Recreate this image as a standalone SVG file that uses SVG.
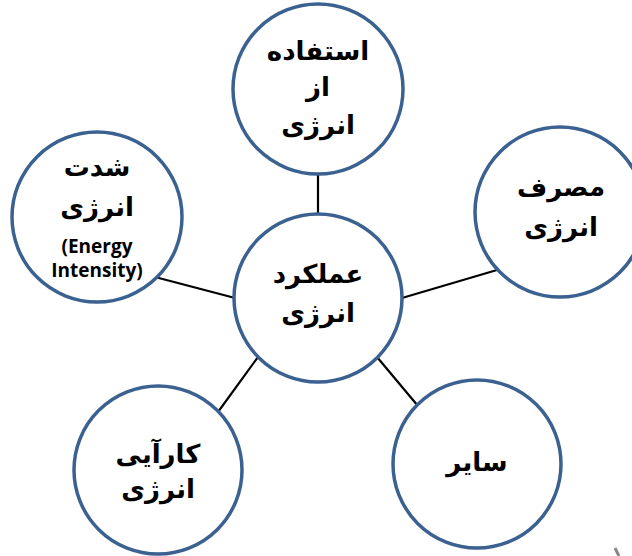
<svg xmlns="http://www.w3.org/2000/svg" width="632" height="556" viewBox="0 0 632 556">
<style>
.node circle{fill:#fff;stroke:#3b6191;stroke-width:3.5}
.fa{font-family:"DejaVu Sans","Noto Sans",sans-serif;font-weight:bold;font-size:26px;fill:#000;text-anchor:middle}
.en{font-family:"Open Sans","Liberation Sans",sans-serif;font-weight:bold;font-size:19px;fill:#000;text-anchor:middle}
.conn line{stroke:#000;stroke-width:2.2}
</style>
<rect width="632" height="556" fill="#fff"/>
<g id="connectors" class="conn">
<line x1="318" y1="175" x2="318" y2="214"/>
<line x1="155" y1="277" x2="235" y2="298"/>
<line x1="402" y1="298" x2="497" y2="270"/>
<line x1="258" y1="357" x2="218" y2="412"/>
<line x1="377" y1="357" x2="418" y2="406"/>
</g>
<g id="top" class="node">
<circle cx="318" cy="89" r="85"/>
<text class="fa" x="318" y="60">استفاده</text>
<text class="fa" x="318" y="96">از</text>
<text class="fa" x="318" y="134">انرژی</text>
</g>
<g id="left" class="node">
<circle cx="97" cy="217" r="85"/>
<text class="fa" x="97" y="176">شدت</text>
<text class="fa" x="97" y="216">انرژی</text>
<text class="en" x="97" y="253">(Energy</text>
<text class="en" x="97" y="277">Intensity)</text>
</g>
<g id="right" class="node">
<circle cx="560" cy="212" r="85"/>
<text class="fa" x="561" y="196">مصرف</text>
<text class="fa" x="561" y="236">انرژی</text>
</g>
<g id="center" class="node">
<circle cx="318" cy="298" r="84"/>
<text class="fa" x="318" y="283">عملکرد</text>
<text class="fa" x="318" y="322">انرژی</text>
</g>
<g id="bottomleft" class="node">
<circle cx="158" cy="470" r="84"/>
<text class="fa" x="158" y="463">کارآیی</text>
<text class="fa" x="158" y="498">انرژی</text>
</g>
<g id="bottomright" class="node">
<circle cx="477" cy="464" r="84"/>
<text class="fa" x="477" y="471">سایر</text>
</g>
<line x1="615" y1="548" x2="619" y2="556" stroke="#888" stroke-width="3"/>
</svg>
